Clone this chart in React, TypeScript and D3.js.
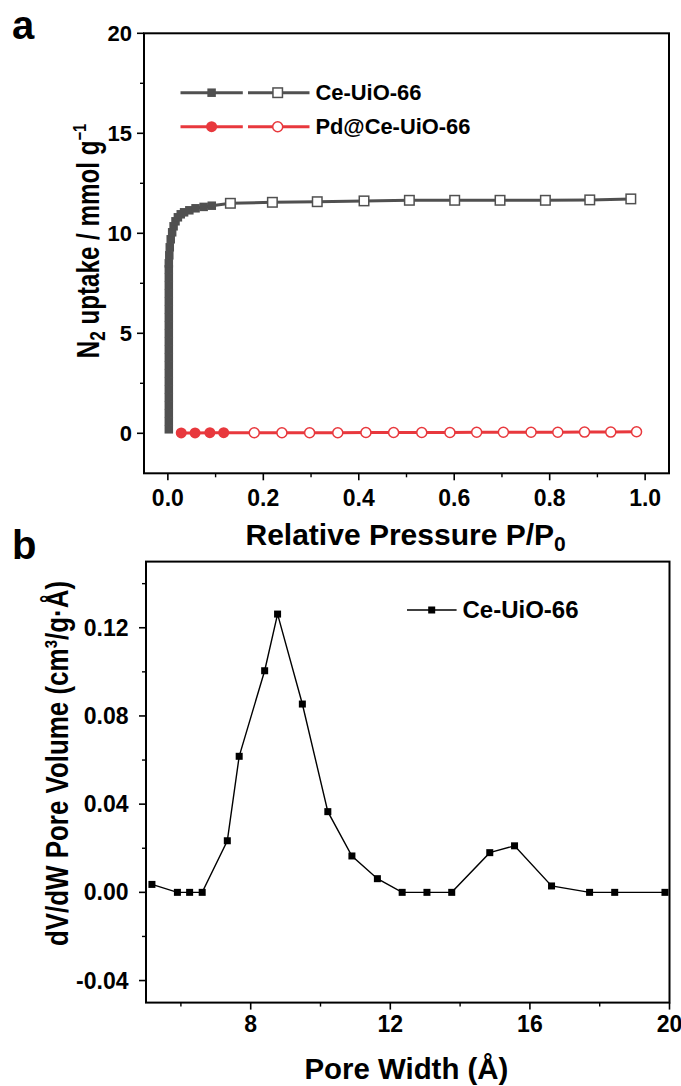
import React from 'react';
import * as d3 from 'd3';

// ---------- Panel a data ----------
const ceAdsP = [0.002,0.002,0.002,0.002,0.002,0.002,0.002,0.002,0.002,0.002,0.002,0.002,0.002,0.002,0.002,0.002,0.002,0.002,0.002,0.002,0.002,0.002,0.003,0.004,0.006,0.009,0.012,0.016,0.021,0.027,0.034,0.045,0.058,0.075,0.092];
const ceAdsV = [0.2,0.6,1.0,1.4,1.8,2.2,2.6,3.0,3.4,3.8,4.2,4.6,5.0,5.4,5.8,6.2,6.6,7.0,7.4,7.8,8.2,8.5,8.9,9.3,9.7,10.05,10.35,10.6,10.8,10.95,11.05,11.15,11.25,11.32,11.38];
const ceOpenP = [0.131,0.219,0.313,0.411,0.506,0.601,0.696,0.791,0.884,0.970];
const ceOpenV = [11.5,11.55,11.58,11.62,11.65,11.65,11.65,11.65,11.67,11.72];
const pdAdsP = [0.028,0.057,0.088,0.117];
const pdAdsV = [0.02,0.02,0.03,0.03];
const pdOpenP = [0.181,0.239,0.297,0.356,0.415,0.473,0.532,0.591,0.647,0.703,0.761,0.817,0.873,0.928,0.982];
const pdOpenV = [0.03,0.03,0.03,0.03,0.04,0.04,0.04,0.04,0.05,0.05,0.05,0.05,0.06,0.06,0.08];

const aXTicks = [0, 0.2, 0.4, 0.6, 0.8, 1.0];
const aXMinor = [0.1, 0.3, 0.5, 0.7, 0.9];
const aYTicks = [0, 5, 10, 15, 20];
const aYMinor = [2.5, 7.5, 12.5, 17.5];

// ---------- Panel b data ----------
const poreW = [5.17,5.90,6.25,6.61,7.33,7.67,8.40,8.77,9.48,10.21,10.90,11.63,12.34,13.05,13.76,14.85,15.56,16.62,17.71,18.43,19.87];
const poreV = [0.0036,0,0,0,0.0234,0.0617,0.1005,0.1262,0.0854,0.0366,0.0165,0.0062,0,0,0,0.018,0.0211,0.0029,0,0,0];

const bXTicks = [8, 12, 16, 20];
const bXMinor = [6, 10, 14, 18];
const bYTicks = [-0.04, 0, 0.04, 0.08, 0.12];
const bYMinor = [-0.02, 0.02, 0.06, 0.10, 0.14];

const GREY = '#505050';
const RED = '#e8383d';
const FONT = 'Arial, "Liberation Sans", Helvetica, sans-serif';

export default function App() {
  const xA = d3.scaleLinear().domain([-0.05, 1.05]).range([144, 669]);
  const yA = d3.scaleLinear().domain([-2, 20]).range([473.3, 33.3]);
  const xB = d3.scaleLinear().domain([5, 20]).range([146, 669.5]);
  const yB = d3.scaleLinear().domain([-0.05, 0.15]).range([1002.6, 561.6]);

  const ceAll: [number, number][] = [
    ...ceAdsP.map((p, i) => [p, ceAdsV[i]] as [number, number]),
    ...ceOpenP.map((p, i) => [p, ceOpenV[i]] as [number, number]),
  ];
  const pdAll: [number, number][] = [
    ...pdAdsP.map((p, i) => [p, pdAdsV[i]] as [number, number]),
    ...pdOpenP.map((p, i) => [p, pdOpenV[i]] as [number, number]),
  ];
  const lineA = d3.line<[number, number]>().x(d => xA(d[0])).y(d => yA(d[1]));
  const lineB = d3.line<number>().x((_, i) => xB(poreW[i])).y(d => yB(d));

  const [ax0, ax1] = xA.range();
  const [ay0, ay1] = yA.range();
  const [bx0, bx1] = xB.range();
  const [by0, by1] = yB.range();

  const sqF = 8.5, sqO = 9.5;

  return (
    <svg width={681} height={1086} style={{ position: 'absolute', left: 0, top: 0, background: '#fff' }}
      fontFamily={FONT} fontWeight="bold">
      <rect x={0} y={0} width={681} height={1086} fill="#fff" />

      {/* ===== Panel a ===== */}
      <text x={12} y={39} fontSize={40}>a</text>

      {aXTicks.map(t => <line key={'axt' + t} x1={xA(t)} x2={xA(t)} y1={ay0} y2={ay0 + 7} stroke="#000" strokeWidth={1.6} />)}
      {aXMinor.map(t => <line key={'axm' + t} x1={xA(t)} x2={xA(t)} y1={ay0} y2={ay0 + 4} stroke="#000" strokeWidth={1.4} />)}
      {aYTicks.map(t => <line key={'ayt' + t} x1={ax0 - 7} x2={ax0} y1={yA(t)} y2={yA(t)} stroke="#000" strokeWidth={1.6} />)}
      {aYMinor.map(t => <line key={'aym' + t} x1={ax0 - 4} x2={ax0} y1={yA(t)} y2={yA(t)} stroke="#000" strokeWidth={1.4} />)}
      {aXTicks.map(t => <text key={'axl' + t} x={xA(t)} y={506} fontSize={23} textAnchor="middle">{t.toFixed(1)}</text>)}
      {aYTicks.map(t => <text key={'ayl' + t} x={132} y={yA(t)} dy="0.35em" fontSize={22} textAnchor="end">{t}</text>)}

      <text x={245.5} y={545} fontSize={30}>
        Relative Pressure P/P<tspan fontSize={21} dy={6}>0</tspan>
      </text>
      <text transform={`translate(99, 241) rotate(-90) scale(0.78, 1)`} fontSize={31} textAnchor="middle">
        N<tspan fontSize={22} dy={6}>2</tspan><tspan dy={-6}> uptake / mmol g</tspan><tspan fontSize={19} dy={-13}>−1</tspan>
      </text>

      {/* data */}
      <path d={lineA(pdAll) || ''} fill="none" stroke={RED} strokeWidth={3} />
      <path d={lineA(ceAll) || ''} fill="none" stroke={GREY} strokeWidth={3} />
      {ceAdsP.map((p, i) => (
        <rect key={'cf' + i} x={xA(p) - sqF / 2} y={yA(ceAdsV[i]) - sqF / 2} width={sqF} height={sqF} fill={GREY} />
      ))}
      {ceOpenP.map((p, i) => (
        <rect key={'co' + i} x={xA(p) - sqO / 2} y={yA(ceOpenV[i]) - sqO / 2} width={sqO} height={sqO} fill="#fff" stroke={GREY} strokeWidth={1.5} />
      ))}
      {pdAdsP.map((p, i) => (
        <circle key={'pf' + i} cx={xA(p)} cy={yA(pdAdsV[i])} r={5.5} fill={RED} />
      ))}
      {pdOpenP.map((p, i) => (
        <circle key={'po' + i} cx={xA(p)} cy={yA(pdOpenV[i])} r={5} fill="#fff" stroke={RED} strokeWidth={1.5} />
      ))}

      {/* legend a */}
      <g>
        <line x1={180.5} x2={242.8} y1={92.7} y2={92.7} stroke={GREY} strokeWidth={3} />
        <line x1={248} x2={309.5} y1={92.7} y2={92.7} stroke={GREY} strokeWidth={3} />
        <rect x={211.6 - sqF / 2} y={92.7 - sqF / 2} width={sqF} height={sqF} fill={GREY} />
        <rect x={277.7 - sqO / 2} y={92.7 - sqO / 2} width={sqO} height={sqO} fill="#fff" stroke={GREY} strokeWidth={1.5} />
        <text x={315.4} y={92.7} dy="0.35em" fontSize={22} textLength={106} lengthAdjust="spacingAndGlyphs">Ce-UiO-66</text>

        <line x1={180.5} x2={242.8} y1={126.7} y2={126.7} stroke={RED} strokeWidth={3} />
        <line x1={248} x2={309.5} y1={126.7} y2={126.7} stroke={RED} strokeWidth={3} />
        <circle cx={211.6} cy={126.7} r={5.5} fill={RED} />
        <circle cx={277.7} cy={126.7} r={5} fill="#fff" stroke={RED} strokeWidth={1.5} />
        <text x={315.4} y={126.7} dy="0.35em" fontSize={22} textLength={155} lengthAdjust="spacingAndGlyphs">Pd@Ce-UiO-66</text>
      </g>

      <rect x={ax0} y={ay1} width={ax1 - ax0} height={ay0 - ay1} fill="none" stroke="#000" strokeWidth={2} />

      {/* ===== Panel b ===== */}
      <text x={12} y={559} fontSize={40}>b</text>

      {bXTicks.map(t => <line key={'bxt' + t} x1={xB(t)} x2={xB(t)} y1={by0} y2={by0 + 7} stroke="#000" strokeWidth={1.6} />)}
      {bXMinor.map(t => <line key={'bxm' + t} x1={xB(t)} x2={xB(t)} y1={by0} y2={by0 + 4} stroke="#000" strokeWidth={1.4} />)}
      {bYTicks.map(t => <line key={'byt' + t} x1={bx0 - 7} x2={bx0} y1={yB(t)} y2={yB(t)} stroke="#000" strokeWidth={1.6} />)}
      {bYMinor.map(t => <line key={'bym' + t} x1={bx0 - 4} x2={bx0} y1={yB(t)} y2={yB(t)} stroke="#000" strokeWidth={1.4} />)}
      {bXTicks.map(t => <text key={'bxl' + t} x={xB(t)} y={1032} fontSize={23} textAnchor="middle">{t}</text>)}
      {bYTicks.map(t => <text key={'byl' + t} x={128.5} y={yB(t)} dy="0.35em" fontSize={23} textAnchor="end">{t.toFixed(2)}</text>)}

      <text x={304.4} y={1079} fontSize={29} textLength={204} lengthAdjust="spacingAndGlyphs">Pore Width (Å)</text>
      <text transform={`translate(68, 763.5) rotate(-90) scale(0.81, 1)`} fontSize={32} textAnchor="middle">
        dV/dW Pore Volume (cm³/g·Å)
      </text>

      <path d={lineB(poreV) || ''} fill="none" stroke="#000" strokeWidth={1.4} />
      {poreV.map((v, i) => (
        <rect key={'pb' + i} x={xB(poreW[i]) - 3.5} y={yB(v) - 3.5} width={7} height={7} fill="#000" />
      ))}

      {/* legend b */}
      <line x1={407} x2={456.6} y1={610} y2={610} stroke="#000" strokeWidth={1.4} />
      <rect x={431.7 - 3.5} y={610 - 3.5} width={7} height={7} fill="#000" />
      <text x={462.5} y={610} dy="0.35em" fontSize={24}>Ce-UiO-66</text>

      <rect x={bx0} y={by1} width={bx1 - bx0} height={by0 - by1} fill="none" stroke="#000" strokeWidth={2} />
    </svg>
  );
}
